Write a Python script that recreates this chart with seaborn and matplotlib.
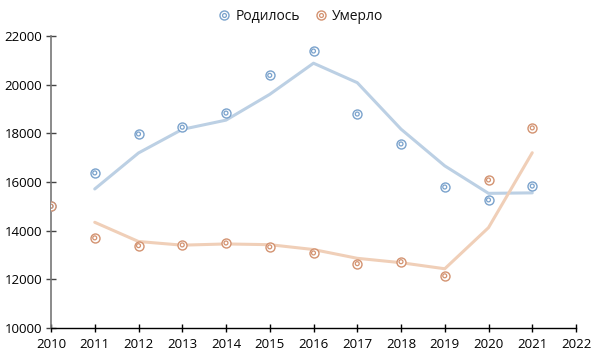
import pandas as pd
import matplotlib.pyplot as plt
import seaborn as sns
from matplotlib.lines import Line2D

# Values
years = [2010, 2011, 2012, 2013, 2014, 2015, 2016, 2017, 2018, 2019, 2020, 2021]
born = [15000, 16370, 17970, 18250, 18830, 20380, 21380, 18790, 17560, 15790, 15260, 15830]
died = [15000, 13700, 13380, 13410, 13490, 13330, 13080, 12640, 12720, 12140, 16080, 18220]

trend_years = [2011, 2012, 2013, 2014, 2015, 2016, 2017, 2018, 2019, 2020, 2021]
born_trend = [15710, 17190, 18160, 18540, 19600, 20880, 20080, 18170, 16660, 15530, 15550]
died_trend = [14340, 13550, 13400, 13450, 13420, 13220, 12860, 12680, 12430, 14120, 17200]

x_ticks = list(range(2010, 2023))
y_ticks = [10000, 12000, 14000, 16000, 18000, 20000, 22000]

blue_pt, blue_ln = '#7aa2cc', '#bcd0e4'
orange_pt, orange_ln = '#d39270', '#f0cfb8'

sns.set_theme(style="white")
plt.rcParams['font.family'] = ['Open Sans', 'DejaVu Sans']

df = pd.DataFrame({'year': years, 'born': born, 'died': died})
tr = pd.DataFrame({'year': trend_years, 'born': born_trend, 'died': died_trend})

fig = plt.figure(figsize=(6, 3.56), dpi=100)
ax = fig.add_axes([0.085, 0.079, 0.875, 0.82])

sns.lineplot(data=tr, x='year', y='born', color=blue_ln, linewidth=2.2, ax=ax)
sns.lineplot(data=tr, x='year', y='died', color=orange_ln, linewidth=2.2, ax=ax)

# double-ring markers: outer ring + inner ring
for col, c in [('born', blue_pt), ('died', orange_pt)]:
    sns.scatterplot(data=df, x='year', y=col, s=42, facecolor='white', edgecolor=c,
                    linewidth=1.0, ax=ax, zorder=3)
    sns.scatterplot(data=df, x='year', y=col, s=8, facecolor='none', edgecolor=c,
                    linewidth=0.9, ax=ax, zorder=4)

ax.set_xlim(2010, 2022)
ax.set_ylim(10000, 22000)
ax.set_xticks(x_ticks)
ax.set_yticks(y_ticks)
ax.set_xlabel('')
ax.set_ylabel('')
ax.tick_params(axis='both', bottom=True, left=True, direction='inout',
               width=1, labelsize=9.5, labelcolor='black')
ax.tick_params(axis='x', color='black', length=6, pad=4)
ax.tick_params(axis='y', color='#444444', length=7, pad=3)

for s in ['top', 'right']:
    ax.spines[s].set_visible(False)
ax.spines['left'].set_color('#777777')
ax.spines['left'].set_linewidth(1.2)
ax.spines['bottom'].set_color('black')
ax.spines['bottom'].set_linewidth(1)


def ring(c):
    outer = Line2D([], [], linestyle='none', marker='o', markersize=6.5,
                   markerfacecolor='white', markeredgecolor=c, markeredgewidth=1.0)
    inner = Line2D([], [], linestyle='none', marker='o', markersize=2.8,
                   markerfacecolor='none', markeredgecolor=c, markeredgewidth=0.9)
    return (outer, inner)


fig.legend([ring(blue_pt), ring(orange_pt)], ['Родилось', 'Умерло'],
           loc='upper center', bbox_to_anchor=(0.5, 1.01), ncol=2, frameon=False,
           fontsize=10, handlelength=1.0, handletextpad=0.3, columnspacing=1.0,
           labelcolor='#111111')

fig.savefig('out.png', dpi=100)
